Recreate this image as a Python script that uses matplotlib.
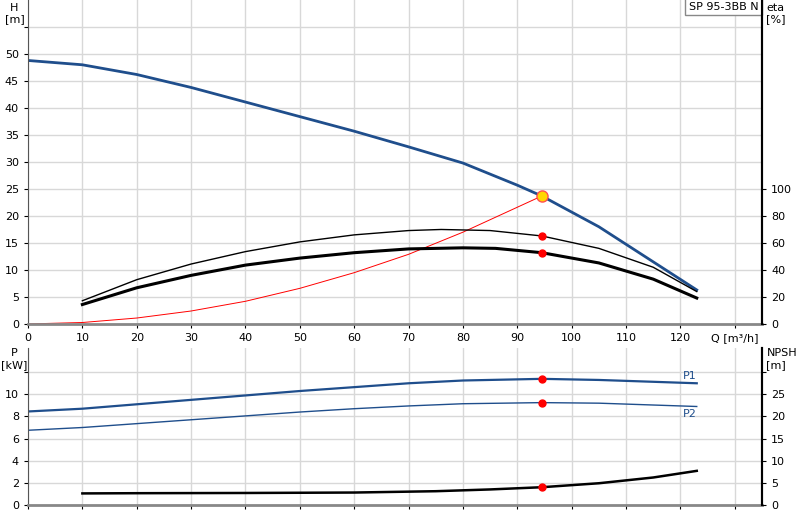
import matplotlib
matplotlib.use("Agg")
import matplotlib.pyplot as plt

q_h = [0, 10, 20, 30, 40, 50, 60, 70, 80, 90, 94.5, 105, 123]
h = [48.8, 48.0, 46.2, 43.8, 41.1, 38.4, 35.7, 32.8, 29.8, 25.7, 23.7, 18.0, 6.3]
q_eta = [10, 20, 30, 40, 50, 60, 70, 76, 85, 94.5, 105, 115, 123]
eta_total = [17.2, 32.8, 44.4, 53.6, 60.8, 66.0, 69.2, 70.0, 69.2, 65.2, 56.0, 42.0, 24.0]
q_eta2 = [10, 20, 30, 40, 50, 60, 70, 80, 86, 94.5, 105, 115, 123]
eta_pump = [14.4, 26.8, 36.0, 43.6, 48.8, 52.8, 55.6, 56.4, 56.0, 52.8, 45.2, 33.2, 19.2]
q_sys = [0, 10, 20, 30, 40, 50, 60, 70, 80, 94.5]
h_sys = [0, 0.27, 1.1, 2.4, 4.2, 6.6, 9.5, 12.9, 17.0, 23.7]
q_p = [0, 10, 20, 30, 40, 50, 60, 70, 80, 94.5, 105, 123]
p1 = [8.45, 8.7, 9.1, 9.5, 9.9, 10.3, 10.65, 11.0, 11.25, 11.4, 11.3, 11.0]
p2 = [6.75, 7.0, 7.35, 7.7, 8.05, 8.4, 8.7, 8.95, 9.15, 9.25, 9.2, 8.9]
q_npsh = [10, 20, 40, 60, 75, 85, 94.5, 105, 115, 123]
npsh = [2.6, 2.65, 2.7, 2.8, 3.1, 3.5, 4.0, 4.9, 6.2, 7.7]
op_q = 94.5

blue = "#1f4e8c"
fig = plt.figure(figsize=(8, 5.2), dpi=100)
ax = fig.add_axes([0.035, 0.377, 0.9175, 0.623])
axb = fig.add_axes([0.035, 0.029, 0.9175, 0.302])
gc = "#d8d8d8"

for a in (ax, axb):
    a.set_xlim(0, 135)
    a.set_xticks(range(0, 131, 10))
    a.grid(True, color=gc, lw=1)
    a.set_axisbelow(True)
    a.tick_params(labelsize=8, length=3, direction="out")
    for s in ("top",):
        a.spines[s].set_visible(False)
    a.spines["right"].set_linewidth(1.5)
    a.spines["left"].set_color("#555")
    a.spines["bottom"].set_color("#888")
    a.spines["bottom"].set_linewidth(2)

# Top
ax.set_ylim(0, 60)
ax.set_yticks(range(0, 56, 5))
ax.set_yticklabels([str(v) if v <= 50 else "" for v in range(0, 56, 5)])
ax.set_xticklabels([str(v) for v in range(0, 121, 10)] + ["Q [m³/h]"])
ax.plot(q_h, h, color=blue, lw=2)
ax.plot(q_sys, h_sys, color="red", lw=0.7)
ax2 = ax.twinx()
ax2.set_ylim(0, 240)
ax2.set_yticks(range(0, 101, 20))
ax2.tick_params(labelsize=8, length=3)
for s in ("top", "left", "bottom"):
    ax2.spines[s].set_visible(False)
ax2.spines["right"].set_linewidth(1.5)
ax2.plot(q_eta, eta_total, color="black", lw=1)
ax2.plot(q_eta2, eta_pump, color="black", lw=2.2)
ax2.plot([op_q, op_q], [eta_total[9], eta_pump[9]], "o", color="red", ms=5, ls="none")
ax.plot([op_q], [h[10]], "o", ms=8, mfc="#ffd700", mec="#ff5050", mew=1)
fig.text(0.018, 0.995, "H\n[m]", fontsize=8, ha="center", va="top")
fig.text(0.958, 0.995, "eta\n[%]", fontsize=8, ha="left", va="top")
ax.text(0.995, 0.995, "SP 95-3BB N", transform=ax.transAxes, fontsize=8,
        ha="right", va="top", bbox=dict(fc="white", ec="#888", boxstyle="square,pad=0.3"))

# Bottom
axb.set_ylim(0, 14.2)
axb.set_yticks(range(0, 13, 2))
axb.set_yticklabels([str(v) if v <= 10 else "" for v in range(0, 13, 2)])
axb.set_xticklabels([])
axb.plot(q_p, p1, color=blue, lw=1.6)
axb.plot(q_p, p2, color=blue, lw=1)
axb.plot([op_q, op_q], [p1[9], p2[9]], "o", color="red", ms=5, ls="none")
axb.text(123, p1[-1] + 0.2, "P1", color=blue, fontsize=8, ha="right", va="bottom")
axb.text(123, p2[-1] - 0.2, "P2", color=blue, fontsize=8, ha="right", va="top")
axb2 = axb.twinx()
axb2.set_ylim(0, 35.5)
axb2.set_yticks(range(0, 31, 5))
axb2.set_yticklabels([str(v) if v <= 25 else "" for v in range(0, 31, 5)])
axb2.tick_params(labelsize=8, length=3)
for s in ("top", "left", "bottom"):
    axb2.spines[s].set_visible(False)
axb2.spines["right"].set_linewidth(1.5)
axb2.plot(q_npsh, npsh, color="black", lw=1.8)
axb2.plot([op_q], [npsh[6]], "o", color="red", ms=5)
fig.text(0.018, 0.33, "P\n[kW]", fontsize=8, ha="center", va="top")
fig.text(0.958, 0.33, "NPSH\n[m]", fontsize=8, ha="left", va="top")

fig.savefig("out.png", dpi=100)
